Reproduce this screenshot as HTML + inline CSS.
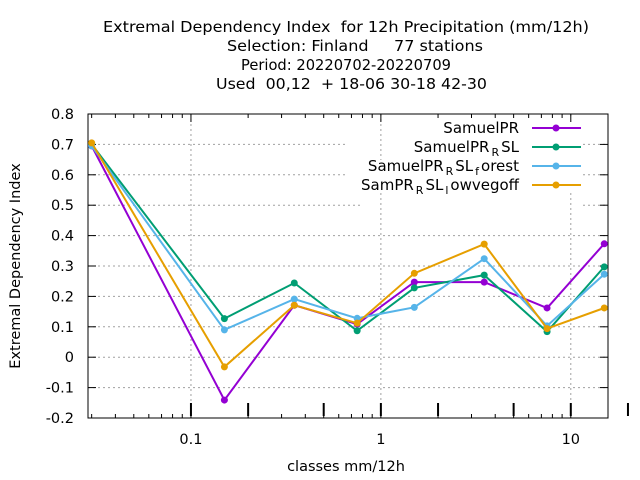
<!DOCTYPE html>
<html><head><meta charset="utf-8"><style>
body{margin:0;background:#fff}
svg{display:block;font-family:"DejaVu Sans","Liberation Sans",sans-serif}
</style></head><body>
<svg id="chart" width="640" height="480" viewBox="0 0 640 480" xmlns="http://www.w3.org/2000/svg">
<g font-size="15" fill="#000">
<text x="103" y="32" textLength="486" lengthAdjust="spacingAndGlyphs" xml:space="preserve">Extremal Dependency Index  for 12h Precipitation (mm/12h)</text>
<text x="227" y="51" textLength="256" lengthAdjust="spacingAndGlyphs" xml:space="preserve">Selection: Finland     77 stations</text>
<text x="241" y="70" textLength="210" lengthAdjust="spacingAndGlyphs">Period: 20220702-20220709</text>
<text x="216" y="89" textLength="271" lengthAdjust="spacingAndGlyphs" xml:space="preserve">Used  00,12  + 18-06 30-18 42-30</text>
</g>
<g id="grid"></g>
<g id="axes"></g>
<g id="series"></g>
<g id="legend"></g>
<text x="346" y="471" font-size="14.5" text-anchor="middle">classes mm/12h</text>
<text transform="translate(20,266) rotate(-90)" font-size="14.5" text-anchor="middle">Extremal Dependency Index</text>
</svg>
<script>
const categories = [0.03, 0.15, 0.35, 0.75, 1.5, 3.5, 7.5, 15];
const seriesNames = ["SamuelPR", "SamuelPR_R SL", "SamuelPR_R SL_f orest", "SamPR_R SL_l owvegoff"];
const samuelPR = [0.695, -0.141, 0.171, 0.109, 0.247, 0.247, 0.162, 0.373];
const samuelPRRSL = [0.700, 0.127, 0.244, 0.087, 0.228, 0.270, 0.084, 0.297];
const samuelPRRSLforest = [0.695, 0.090, 0.191, 0.128, 0.164, 0.324, 0.103, 0.273];
const samPRRSLlowvegoff = [0.705, -0.032, 0.171, 0.112, 0.276, 0.372, 0.094, 0.162];
const yTicks = [-0.2, -0.1, 0, 0.1, 0.2, 0.3, 0.4, 0.5, 0.6, 0.7, 0.8];
const yTickLabels = ["-0.2","-0.1","0","0.1","0.2","0.3","0.4","0.5","0.6","0.7","0.8"];
const xTicks = [0.1, 1, 10];
const xTickLabels = ["0.1","1","10"];

const NS="http://www.w3.org/2000/svg";
const L=88,R=608,T=114,B=418;
const xmin=Math.log10(0.0287), xmax=Math.log10(15.7);
const xs=v=>L+(Math.log10(v)-xmin)/(xmax-xmin)*(R-L);
const ys=v=>T+(0.8-v)/1.0*(B-T);
function mk(tag,attrs,parent){const e=document.createElementNS(NS,tag);for(const k in attrs)e.setAttribute(k,attrs[k]);parent.appendChild(e);return e;}
const grid=document.getElementById('grid'),axes=document.getElementById('axes'),ser=document.getElementById('series'),leg=document.getElementById('legend');
const gs={stroke:'#a0a0a0','stroke-width':1,'stroke-dasharray':'2,3'};
yTicks.forEach((v,i)=>{
  const y=ys(v);
  if(v>-0.2&&v<0.8){
    let x2=R;
    if(v>0.65) x2=345; else if(v>0.55) x2=345; else if(v>0.45) x2=360;
    const g=mk('line',Object.assign({x1:L,y1:y,x2:x2,y2:y},gs),grid);
    
    
    if(v>0.45){const g2=mk('line',Object.assign({x1:583,y1:y,x2:R,y2:y},gs),grid);
      
      }
  }
  const t=mk('line',{x1:L,y1:y,x2:L+8,y2:y,stroke:'#000'},axes);
  
  
  const t2=mk('line',{x1:R-8,y1:y,x2:R,y2:y,stroke:'#000'},axes);
  
  
  const lb=mk('text',{x:74,y:y+5,'font-size':14.5,'text-anchor':'end'},axes);lb.textContent=yTickLabels[i];
  
  
});
xTicks.forEach((v,i)=>{
  const x=xs(v);
  const y1 = v===1 ? 193 : (v===10 ? 193 : T);
  const g=mk('line',Object.assign({x1:x,y1:y1,x2:x,y2:B},gs),grid);
  
  
  if(v!==0.1){const g3=mk('line',Object.assign({x1:x,y1:T,x2:x,y2:v===1?160:118},gs),grid);
    
    }
  const lb=mk('text',{x:x,y:444,'font-size':14.5,'text-anchor':'middle'},axes);lb.textContent=xTickLabels[i];
  
  
});
for(let d=0.01;d<=10;d*=10){for(let m=1;m<=9;m++){const v=d*m;const x=xs(v);if(x<L||x>R)continue;const len=m===1?8:4;
  const a=mk('line',{x1:x,y1:B,x2:x,y2:B-len,stroke:'#000'},axes);
  
  
  const b=mk('line',{x1:x,y1:T,x2:x,y2:T+len,stroke:'#000'},axes);
  
  }}
[0.1,0.2,0.5,1,2,5,10,20].forEach(v=>{const x=xs(v);
  const a=mk('line',{x1:x,y1:403,x2:x,y2:416,stroke:'#000','stroke-width':2},axes);
  
  });
const fr=mk('rect',{x:L,y:T,width:R-L,height:B-T,fill:'none',stroke:'#000'},axes);


const all=[samuelPR,samuelPRRSL,samuelPRRSLforest,samPRRSLlowvegoff];
const colors=['#9400d3','#009e73','#56b4e9','#e69f00'];
const labels=[['SamuelPR'],['SamuelPR','R','SL'],['SamuelPR','R','SL','f','orest'],['SamPR','R','SL','l','owvegoff']];
all.forEach((s,k)=>{
  const pts=s.map((v,i)=>xs(categories[i]).toFixed(1)+','+ys(v).toFixed(1)).join(' ');
  const p=mk('polyline',{points:pts,fill:'none',stroke:colors[k],'stroke-width':2},ser);
  
  
  s.forEach((v,i)=>{const c=mk('circle',{cx:xs(categories[i]),cy:ys(v),r:3.5,fill:colors[k]},ser);
    
    });
  const y=128+k*19;
  const t=mk('text',{x:519,y:y+5,'font-size':15,'text-anchor':'end'},leg);
  
  
  labels[k].forEach((part,j)=>{const ts=mk('tspan',{},t);ts.textContent=part;if(j%2===1){ts.setAttribute('font-size','11');ts.setAttribute('dy','4');ts.setAttribute('dx','2');}else if(j>0){ts.setAttribute('dy','-4');ts.setAttribute('dx','2');}});
  const ln=mk('line',{x1:532,y1:y,x2:581,y2:y,stroke:colors[k],'stroke-width':2},leg);
  
  
  const lc=mk('circle',{cx:556,cy:y,r:3.5,fill:colors[k]},leg);
  
  
});
</script>
</body></html>
